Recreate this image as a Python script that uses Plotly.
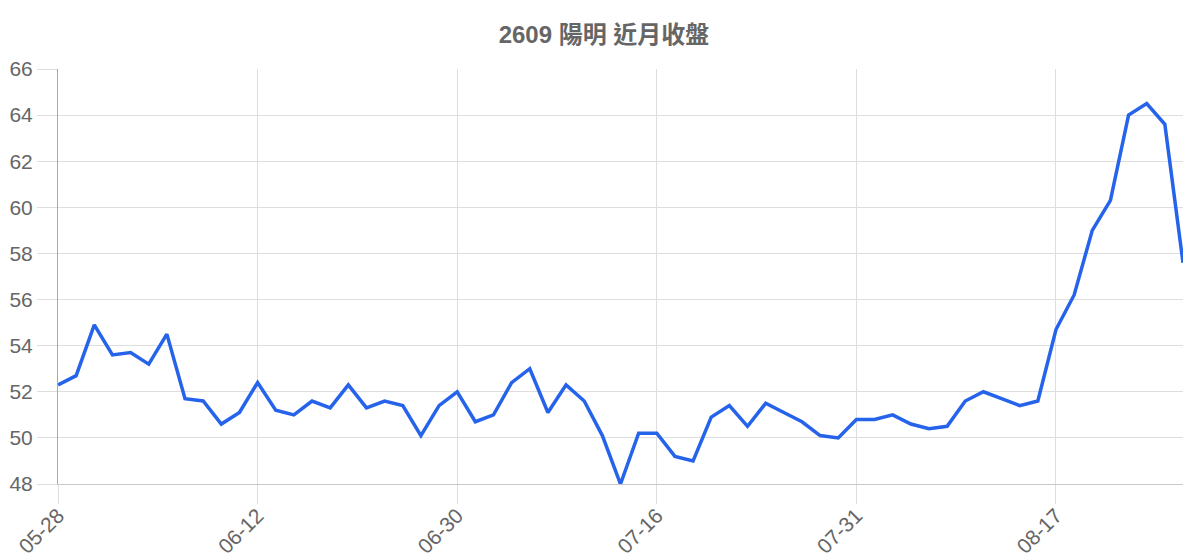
import plotly.graph_objects as go

dates = [
    "05-28", "05-29", "05-30", "06-02", "06-03", "06-04", "06-05", "06-06", "06-09", "06-10", "06-11",
    "06-12", "06-13", "06-16", "06-17", "06-18", "06-20", "06-23", "06-24", "06-25", "06-26", "06-27",
    "06-30", "07-01", "07-02", "07-03", "07-04", "07-07", "07-08", "07-09", "07-11", "07-14", "07-15",
    "07-16", "07-17", "07-18", "07-21", "07-22", "07-23", "07-24", "07-25", "07-28", "07-29", "07-30",
    "07-31", "08-01", "08-04", "08-05", "08-06", "08-07", "08-08", "08-11", "08-12", "08-13", "08-14",
    "08-17", "08-18", "08-19", "08-20", "08-21", "08-22", "08-25",
    "08-26",
]
close = [
    52.3, 52.7, 54.9, 53.6, 53.7, 53.2, 54.5, 51.7, 51.6, 50.6, 51.1,
    52.4, 51.2, 51.0, 51.6, 51.3, 52.3, 51.3, 51.6, 51.4, 50.1, 51.4,
    52.0, 50.7, 51.0, 52.4, 53.0, 51.1, 52.3, 51.6, 50.1, 48.0, 50.2,
    50.2, 49.2, 49.0, 50.9, 51.4, 50.5, 51.5, 51.1, 50.7, 50.1, 50.0,
    50.8, 50.8, 51.0, 50.6, 50.4, 50.5, 51.6, 52.0, 51.7, 51.4, 51.6,
    54.7, 56.2, 59.0, 60.3, 64.0, 64.5, 63.6,
    57.6,
]
tick_dates = ["05-28", "06-12", "06-30", "07-16", "07-31", "08-17"]
y_ticks = [48, 50, 52, 54, 56, 58, 60, 62, 64, 66]

fig = go.Figure()
fig.add_trace(
    go.Scatter(
        x=dates,
        y=close,
        mode="lines",
        line=dict(color="#2563eb", width=3.5),
        showlegend=False,
    )
)

# page has an 8px body margin, so the figure is sized to fit inside the window
grid = "#dedede"
fig.update_layout(
    width=1192,
    height=552,
    paper_bgcolor="white",
    plot_bgcolor="white",
    font=dict(family="Liberation Sans, Arial, Noto Sans CJK TC", color="#666666"),
    title=dict(
        text="<b>2609 陽明 近月收盤</b>",
        x=0.5,
        xanchor="center",
        y=0.951,
        yanchor="middle",
        font=dict(size=24, color="#666666", family="Liberation Sans, Noto Sans CJK TC"),
    ),
    margin=dict(l=50, r=17, t=61, b=76, autoexpand=False),
)
fig.update_xaxes(
    type="category",
    range=[0, len(dates) - 1],
    tickmode="array",
    tickvals=tick_dates,
    ticktext=tick_dates,
    tickangle=-45,
    tickfont=dict(size=21, color="#666666"),
    showgrid=True,
    gridcolor=grid,
    gridwidth=1,
    ticks="outside",
    ticklen=19,
    tickcolor=grid,
    ticklabelstandoff=-9,
    showline=True,
    linecolor="#c8c8c8",
    linewidth=1,
    zeroline=False,
    automargin=False,
)
fig.update_yaxes(
    range=[48, 66],
    tickmode="array",
    tickvals=y_ticks,
    tickfont=dict(size=21, color="#666666"),
    showgrid=True,
    gridcolor=grid,
    gridwidth=1,
    ticks="outside",
    ticklen=20,
    tickcolor=grid,
    showline=True,
    linecolor="#a8a8a8",
    linewidth=1,
    zeroline=False,
    automargin=False,
)

fig.write_html("out.html")
